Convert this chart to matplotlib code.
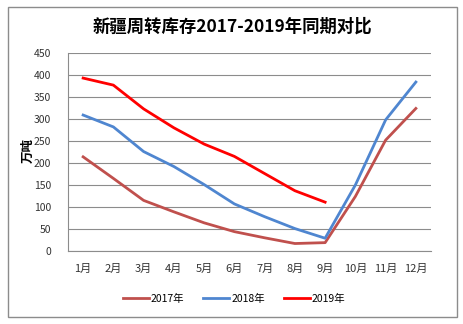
import matplotlib
matplotlib.use("Agg")
import matplotlib.pyplot as plt
from matplotlib.patches import Rectangle

plt.rcParams['font.family'] = ['Noto Sans CJK SC', 'DejaVu Sans']

months = ["1月", "2月", "3月", "4月", "5月", "6月", "7月", "8月", "9月", "10月", "11月", "12月"]
stock_2017 = [214, 165, 115, 89, 64, 44, 30, 17, 19, 124, 252, 324]
stock_2018 = [309, 282, 226, 192, 151, 107, 78, 51, 29, 150, 298, 384]
stock_2019 = [393, 377, 323, 280, 243, 215, 176, 137, 111]
yticks = [0, 50, 100, 150, 200, 250, 300, 350, 400, 450]

W, H = 463, 324
fig = plt.figure(figsize=(W / 100, H / 100), dpi=100)
fig.patch.set_facecolor("white")

# outer frame
fig.patches.append(Rectangle((8 / W, 1 - 317 / H), 449 / W, 310 / H,
                             transform=fig.transFigure, fill=False,
                             edgecolor="#8c8c8c", linewidth=1.0))

ax = fig.add_axes([68 / W, 1 - 251 / H, 363 / W, 198 / H])
x = list(range(len(months)))
ax.plot(x, stock_2017, color="#C0504D", lw=2.0, label="2017年")
ax.plot(x, stock_2018, color="#4F86D0", lw=2.0, label="2018年")
ax.plot(x[:len(stock_2019)], stock_2019, color="#FF0000", lw=2.0, label="2019年")

ax.set_xlim(-0.5, 11.5)
ax.set_ylim(0, 450)
ax.set_yticks(yticks)
ax.set_yticklabels([str(v) for v in yticks], fontsize=7.5, color="#333333")
ax.set_xticks(x)
ax.set_xticklabels(months, fontsize=8, color="#333333")
ax.tick_params(length=0)
ax.tick_params(axis="y", pad=12)
ax.tick_params(axis="x", pad=9)
ax.grid(axis="y", color="#8c8c8c", lw=0.8)
ax.set_axisbelow(True)
for s in ["top", "right"]:
    ax.spines[s].set_visible(False)
ax.spines["left"].set_color("#8c8c8c")
ax.spines["bottom"].set_color("#8c8c8c")

ax.set_ylabel("万吨", fontsize=9, fontweight="bold", va="center")
ax.yaxis.set_label_coords(-0.11, 0.51)

fig.text(232 / W, 1 - 27 / H, "新疆周转库存2017-2019年同期对比",
         ha="center", va="center", fontsize=12.5, fontweight="bold")

fig.legend(loc="center", bbox_to_anchor=(234 / W, 1 - 299 / H), ncol=3,
           frameon=False, fontsize=7.5, handlelength=2.5, columnspacing=1.8,
           handletextpad=0.2)

fig.savefig("out.png", dpi=100)
